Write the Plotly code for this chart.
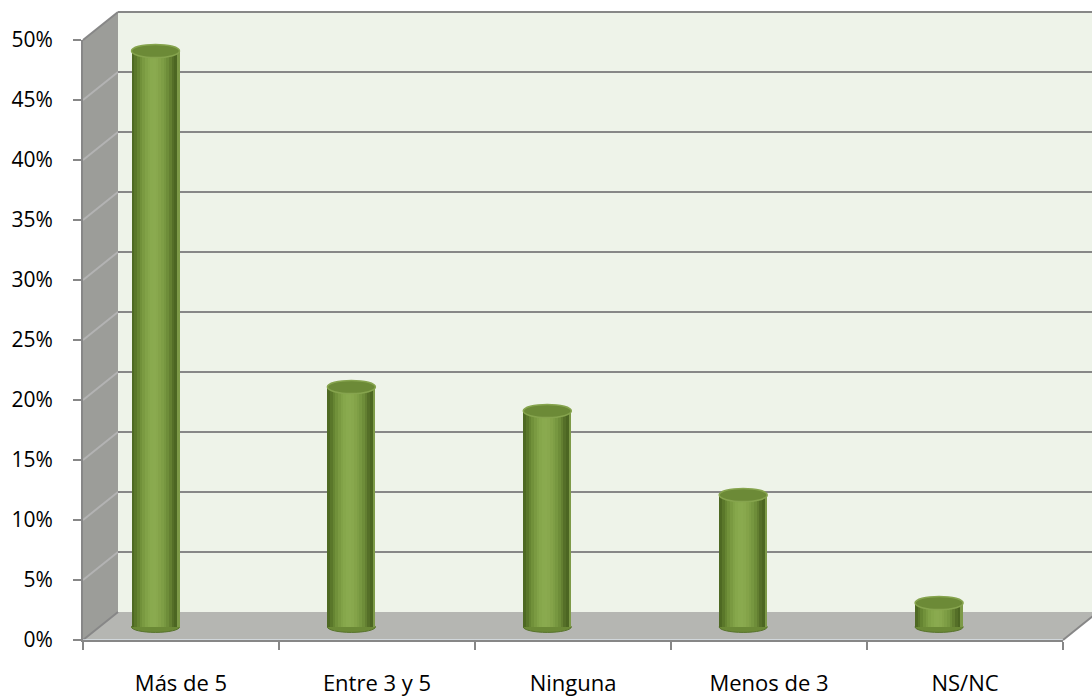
import plotly.graph_objects as go

# ---------------------------------------------------------------- data
categories = ["Más de 5", "Entre 3 y 5", "Ninguna", "Menos de 3", "NS/NC"]
values = [0.48, 0.20, 0.18, 0.11, 0.02]
tick_values = [0.00, 0.05, 0.10, 0.15, 0.20, 0.25, 0.30, 0.35, 0.40, 0.45, 0.50]
tick_labels = ["0%", "5%", "10%", "15%", "20%", "25%", "30%", "35%", "40%", "45%", "50%"]

# ---------------------------------------------------------------- layout geometry (pixels)
W, H = 1092, 699
BACK_L, BACK_R, BACK_TOP, BACK_BOT = 118, 1098, 12, 612   # back wall
DX, DY = 35, 28                                           # oblique depth offset
FRONT_L, FRONT_R = BACK_L - DX, BACK_R - DX
FRONT_TOP, FRONT_BOT = BACK_TOP + DY, BACK_BOT + DY
PX_PER_UNIT = (BACK_BOT - BACK_TOP) / 0.5                 # 1.0 == 100 %

# cylinders sit part-way into the box
BAR_BASE = 627          # pixel row of 0 % for the cylinders
BAR_FIRST_X = 155.5     # pixel column of first cylinder axis
BAR_STEP = 195.9        # pixel distance between cylinders
BAR_W = 0.245           # cylinder diameter in category units

EDGE = "#878787"
SIDE_FILL = "#9c9d99"
FLOOR_FILL = "#b5b6b2"
BACK_FILL = "#eef3e9"
SIDE_GRID = "#b3b3b3"
FONT_Y = dict(family="Open Sans, Lato, sans-serif", size=21, color="#000000")
FONT_X = dict(family="Open Sans, Lato, sans-serif", size=22, color="#000000")

# left-to-right shading across a cylinder body
shade = ["#4e6923", "#5a772a", "#668532", "#71913a", "#7a9a41", "#81a247",
         "#86a74b", "#89aa4e", "#8aaa4f", "#88a84d", "#84a349", "#7e9e45",
         "#779740", "#6e8d39", "#637f31", "#556f28", "#4c6622", "#7d9a48"]


def px(x):
    return x / W


def py(y):
    return 1 - y / H


def back_y(v):
    return BACK_BOT - v * PX_PER_UNIT


def front_y(v):
    return FRONT_BOT - v * PX_PER_UNIT


def poly(points):
    return "M " + " L ".join(f"{px(x):.5f},{py(y):.5f}" for x, y in points) + " Z"


fig = go.Figure()

# cylinder bodies: narrow overlapping slices give the rounded shading
n = len(shade)
sw = BAR_W / n
for k, col in enumerate(shade):
    fig.add_trace(go.Bar(
        x=categories, y=values,
        xaxis="x3", yaxis="y3",
        width=sw * 1.35 if k < n - 1 else sw,
        offset=-BAR_W / 2 + k * sw,
        marker=dict(color=col, line=dict(width=0)),
        showlegend=False, hoverinfo="skip",
    ))

# invisible trace so the front category axis is populated
fig.add_trace(go.Bar(x=categories, y=[0] * len(categories), xaxis="x2", yaxis="y2",
                     marker=dict(color="rgba(0,0,0,0)"), showlegend=False,
                     hoverinfo="skip"))
# invisible trace for the back-wall grid axes
fig.add_trace(go.Scatter(x=[0, 1], y=[0, 0.5], mode="markers", xaxis="x", yaxis="y",
                         marker=dict(opacity=0), showlegend=False, hoverinfo="skip"))

shapes = []
# walls and floor
shapes.append(dict(type="path", xref="paper", yref="paper", layer="below",
                   path=poly([(BACK_L, BACK_TOP), (BACK_R, BACK_TOP),
                              (BACK_R, BACK_BOT), (BACK_L, BACK_BOT)]),
                   fillcolor=BACK_FILL, line=dict(width=0)))
shapes.append(dict(type="path", xref="paper", yref="paper", layer="below",
                   path=poly([(FRONT_L, FRONT_TOP), (BACK_L, BACK_TOP),
                              (BACK_L, BACK_BOT), (FRONT_L, FRONT_BOT)]),
                   fillcolor=SIDE_FILL, line=dict(width=0)))
shapes.append(dict(type="path", xref="paper", yref="paper", layer="below",
                   path=poly([(FRONT_L, FRONT_BOT), (BACK_L, BACK_BOT),
                              (BACK_R, BACK_BOT), (FRONT_R, FRONT_BOT)]),
                   fillcolor=FLOOR_FILL, line=dict(width=0)))

# grid lines running across the side wall
for v in tick_values:
    col = EDGE if v in (tick_values[0], tick_values[-1]) else SIDE_GRID
    shapes.append(dict(type="line", xref="paper", yref="paper", layer="below",
                       x0=px(FRONT_L), y0=py(front_y(v)), x1=px(BACK_L), y1=py(back_y(v)),
                       line=dict(color=col, width=2)))

# box edges
for (x0, y0, x1, y1) in [
    (BACK_L, BACK_TOP, BACK_R, BACK_TOP),
    (FRONT_R, FRONT_BOT, BACK_R, BACK_BOT),
]:
    shapes.append(dict(type="line", xref="paper", yref="paper", layer="below",
                       x0=px(x0), y0=py(y0), x1=px(x1), y1=py(y1),
                       line=dict(color=EDGE, width=2)))

# cylinder ends
for i, v in enumerate(values):
    shapes.append(dict(type="circle", xref="x3", yref="y3", layer="below",
                       x0=i - BAR_W / 2, x1=i + BAR_W / 2, y0=-0.0045, y1=0.0045,
                       fillcolor="#6b8936", line=dict(color="#56722a", width=1)))
    shapes.append(dict(type="circle", xref="x3", yref="y3", layer="above",
                       x0=i - BAR_W / 2, x1=i + BAR_W / 2, y0=v - 0.0055, y1=v + 0.0055,
                       fillcolor="#6c8a37", line=dict(color="#86a44e", width=1.5)))

# hidden cylinder axes: range chosen so columns land at the right pixels
x3_lo = (BACK_L - BAR_FIRST_X) / BAR_STEP
x3_hi = (W - BAR_FIRST_X) / BAR_STEP
y3_lo, y3_hi = -0.03, 0.52

fig.update_layout(
    width=W, height=H, autosize=False,
    margin=dict(l=0, r=0, t=0, b=0, pad=0),
    paper_bgcolor="white", plot_bgcolor="rgba(0,0,0,0)",
    barmode="overlay", bargap=0,
    shapes=shapes,
    font=FONT_Y,
    # back wall grid
    xaxis=dict(domain=[px(BACK_L), 1.0], range=[0, 1], visible=False, automargin=False),
    yaxis=dict(domain=[py(BACK_BOT), py(BACK_TOP)], range=[0, 0.5], automargin=False,
               tickvals=tick_values, showgrid=True, gridcolor=EDGE, gridwidth=2,
               zeroline=False, showticklabels=False, ticks="", showline=False),
    # front axes carrying labels
    xaxis2=dict(domain=[px(FRONT_L), px(FRONT_R)], anchor="y2", type="category",
                range=[-0.5, 4.5], showgrid=False, zeroline=False, automargin=False,
                showline=True, linecolor=EDGE, linewidth=2,
                ticks="outside", tickson="boundaries", ticklen=8, tickwidth=2,
                tickcolor=EDGE, tickfont=FONT_X, ticklabelstandoff=23),
    yaxis2=dict(domain=[py(FRONT_BOT), py(FRONT_TOP)], anchor="x2", range=[0, 0.5],
                tickvals=tick_values, ticktext=tick_labels, showgrid=False,
                zeroline=False, showline=True, linecolor=EDGE, linewidth=2,
                automargin=False,
                ticks="outside", ticklen=8, tickwidth=2, tickcolor=EDGE,
                tickfont=FONT_Y, ticklabelstandoff=16),
    # cylinders
    xaxis3=dict(domain=[px(BACK_L), 1.0], anchor="y3", type="category",
                range=[x3_lo, x3_hi], visible=False, automargin=False),
    yaxis3=dict(domain=[py(BAR_BASE - y3_lo * PX_PER_UNIT), py(BAR_BASE - y3_hi * PX_PER_UNIT)],
                anchor="x3", range=[y3_lo, y3_hi], visible=False, automargin=False),
)

fig.write_html("out.html")
